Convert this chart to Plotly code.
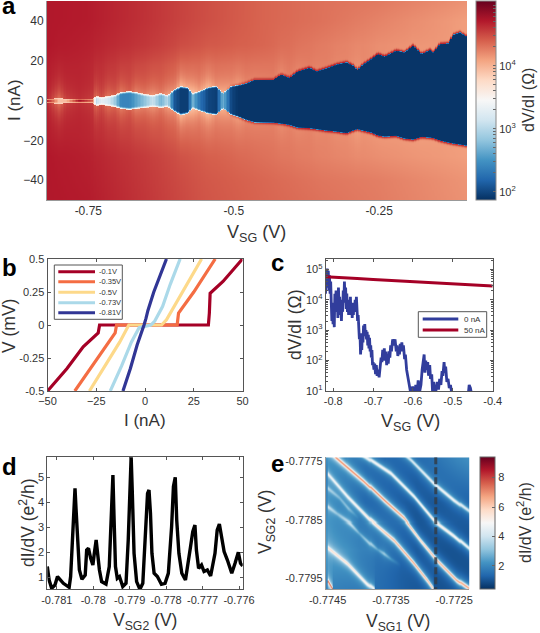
import numpy as np
import plotly.graph_objects as go

W = 540
H = 633
FONT = "Liberation Sans"
TXT = "#333333"
FRAME = "#555555"

# colours shared by the two maps
map_colors = ["#053061", "#2166ac", "#4393c3", "#92c5de", "#d1e5f0", "#f7f7f7",
              "#fddbc7", "#f4a582", "#d6604d", "#b2182b", "#67001f"]

## Panel a: gap edge ##
edge_v = [-0.821, -0.7998, -0.7883, -0.7654, -0.7425, -0.7368, -0.7282, -0.7167, -0.7053, -0.6938,
          -0.6795, -0.668, -0.6537, -0.6393, -0.625, -0.6136, -0.6021, -0.5906, -0.5792, -0.5706,
          -0.5591, -0.5448, -0.5305, -0.519, -0.5047, -0.4932, -0.4789, -0.4646, -0.4331, -0.4188,
          -0.4044, -0.3901, -0.37, -0.3586, -0.3414, -0.3242, -0.307, -0.2956, -0.2881, -0.2784,
          -0.264, -0.2526, -0.2411, -0.2211, -0.2067, -0.1924, -0.1781, -0.1638, -0.158, -0.1466,
          -0.1322, -0.1236, -0.1122, -0.099]
edge_upper = [1, 1.5, 1, 1.2, 1.2, 2.5, 2, 2.5, 3, 4.5, 5, 4.5, 3.5, 3, 4, 3, 6, 7.5, 7, 4, 5, 7, 7.5, 4,
              7.5, 8, 9, 10.8, 10.7, 13.4, 11.7, 15, 16.7, 15, 16.5, 18.4, 19.5, 17.9, 15.7, 18.4,
              21.2, 23.7, 22.4, 25.4, 24.5, 27.9, 23.7, 25.7, 24.5, 28.7, 29, 33.3, 34.5, 32.3]
edge_lower = [1, 1.5, 1, 1, 1, 2.5, 2, 2.5, 3, 4, 4.5, 4, 3.5, 3, 3.5, 3, 5.5, 7.2, 6.5, 3.8, 5, 6.5, 7, 3.8,
              7, 8, 9.7, 10.8, 11, 11.5, 12.15, 13.5, 13.8, 14.3, 15, 15.5, 16.3, 15, 14.3, 15,
              16, 17.5, 18, 17.65, 19, 19.5, 18.2, 18.5, 18.8, 20, 21, 21.5, 22, 22.65]
# log10 of dV/dI inside the gap
gap_log = [4.95, 3.9, 4.0, 4.95, 4.5, 3.0, 3.3, 3.2, 2.9, 2.4, 2.4, 2.6, 2.8, 3.1, 2.7, 3.0, 2.1, 1.95, 1.95, 2.7,
           2.3, 2.0, 1.95, 2.7, 2.0, 1.9, 1.9, 1.9, 1.9, 1.9, 1.9, 1.9, 1.9, 1.9, 1.9, 1.9, 1.9, 1.9, 1.9, 1.9,
           1.9, 1.9, 1.9, 1.9, 1.9, 1.9, 1.9, 1.9, 1.9, 1.9, 1.9, 1.9, 1.9, 1.9]
# how far the pale glow outside the edge pulls the log value down
halo_log = [0.05, 0.35, 0.15, 0.05, 0.1, 0.3, 0.15, 0.3, 0.2, 0.3, 0.15, 0.3, 0.25, 0.35, 0.2, 0.35, 0.25, 0.45, 0.35, 0.5,
            0.3, 0.4, 0.2, 0.35, 0.2, 0.25, 0.12, 0.1, 0.06, 0.12, 0.05, 0.08, 0.03, 0.06, 0.03, 0.05, 0.03, 0.06, 0.1, 0.03,
            0.03, 0.03, 0.03, 0.03, 0.03, 0.03, 0.04, 0.03, 0.03, 0.02, 0.02, 0.02, 0.02, 0.02]
rim_log = [0.0] * 24 + [0.15, 0.25, 0.3, 0.3, 0.35, 0.35, 0.4, 0.4, 0.45, 0.4, 0.45, 0.45, 0.45, 0.45, 0.45, 0.45,
                        0.5, 0.5, 0.5, 0.5, 0.5, 0.5, 0.5, 0.5, 0.5, 0.5, 0.5, 0.5, 0.5, 0.5]

# background level away from the gap, log10 of dV/dI
bg_v = [-0.821, -0.75, -0.65, -0.55, -0.45, -0.35, -0.25, -0.099]
bg_i = [-50, -40, -28, -18, 18, 28, 40, 50]
bg_table = [
    [4.72, 4.70, 4.58, 4.45, 4.38, 4.32, 4.27, 4.17],
    [4.72, 4.69, 4.57, 4.44, 4.37, 4.30, 4.26, 4.16],
    [4.72, 4.68, 4.56, 4.42, 4.33, 4.25, 4.19, 4.12],
    [4.70, 4.66, 4.52, 4.38, 4.31, 4.25, 4.17, 4.13],
    [4.70, 4.66, 4.52, 4.38, 4.33, 4.28, 4.22, 4.14],
    [4.72, 4.68, 4.58, 4.45, 4.38, 4.28, 4.20, 4.14],
    [4.72, 4.70, 4.60, 4.48, 4.38, 4.32, 4.24, 4.12],
    [4.72, 4.70, 4.60, 4.48, 4.38, 4.32, 4.28, 4.17],
]

## Panel b ##
iv_names = ["-0.1V", "-0.35V", "-0.5V", "-0.73V", "-0.81V"]
iv_colors = ["#a50026", "#f46d43", "#fdd98a", "#abd9e9", "#313695"]
iv_i = [
    [-50, -40, -31.7, -24, -23.3, 32.5, 33, 33.4, 40, 50],
    [-36, -28, -20, -15.3, -14.6, 16.5, 16.8, 17.2, 25, 36],
    [-28.5, -20, -13, -8.3, 8.5, 11, 15, 21, 29],
    [-17.8, -12, -7, -3, 3, 5, 9, 13, 18],
    [-11.3, -7.5, -4, -2, -0.5, 0.5, 1.5, 4.5, 7, 11],
]
iv_v = [
    [-0.5, -0.33, -0.165, -0.06, 0, 0, 0.09, 0.24, 0.33, 0.5],
    [-0.5, -0.33, -0.17, -0.06, 0, 0, 0.04, 0.09, 0.25, 0.5],
    [-0.5, -0.3, -0.13, 0, 0, 0.04, 0.14, 0.29, 0.5],
    [-0.5, -0.31, -0.13, -0.02, 0, 0.03, 0.14, 0.31, 0.5],
    [-0.5, -0.33, -0.15, -0.07, 0, 0.05, 0.11, 0.25, 0.35, 0.5],
]

## Panel c ##
vsg_0na = [-0.8195, -0.8185, -0.817, -0.8155, -0.814, -0.8125, -0.811, -0.8095, -0.808, -0.8065, -0.805, -0.8035,
           -0.802, -0.8005, -0.799, -0.7975, -0.796, -0.7945, -0.793, -0.7915, -0.79, -0.7885, -0.787, -0.7855,
           -0.784, -0.7825, -0.781, -0.7795, -0.778, -0.7765, -0.775, -0.7735, -0.772, -0.7705, -0.769, -0.7675,
           -0.766, -0.7645, -0.763, -0.7615, -0.76, -0.7585, -0.757, -0.7555, -0.754, -0.7525, -0.751, -0.7495,
           -0.748, -0.7465, -0.745, -0.7435, -0.742, -0.7405, -0.739, -0.7375, -0.736, -0.7345, -0.733, -0.7315,
           -0.73, -0.7285, -0.727, -0.7255, -0.724, -0.7225, -0.721, -0.7195, -0.718, -0.7165, -0.715, -0.7135,
           -0.712, -0.7105, -0.709, -0.7075, -0.706, -0.7045, -0.703, -0.7015, -0.7, -0.698, -0.696, -0.694,
           -0.692, -0.69, -0.688, -0.685, -0.682, -0.68, -0.678, -0.676, -0.674, -0.672, -0.67, -0.668,
           -0.666, -0.664, -0.662, -0.66, -0.658, -0.656, -0.654, -0.651, -0.648, -0.645, -0.642, -0.64,
           -0.638, -0.636, -0.634, -0.632, -0.63, -0.628, -0.626, -0.624, -0.621, -0.619, -0.616, -0.613,
           -0.61, -0.607, -0.604, -0.601, -0.599, -0.596, -0.593, -0.59, -0.587, -0.583, -0.58, -0.577,
           -0.574, -0.572, -0.57, -0.568, -0.566, -0.563, -0.561, -0.558, -0.556, -0.553, -0.551, -0.548,
           -0.545, -0.542, -0.539, -0.536, -0.533, -0.53, -0.527, -0.525, -0.522, -0.52, -0.518, -0.515,
           -0.512, -0.509, -0.506, -0.503, -0.5, -0.49, -0.47, -0.462, -0.459, -0.456, -0.453, -0.45]
logr_0na = [4.2, 4.7, 4.4, 5.03, 4.5, 4.95, 4.3, 4.8, 4.2, 4.6, 3.9, 3.3,
            3.7, 3.2, 3.9, 3.1, 4.2, 3.7, 4.3, 3.6, 4.2, 3.4, 4.4, 3.8,
            4.1, 3.5, 3.9, 3.3, 4.0, 3.6, 4.3, 3.9, 4.6, 4.0, 4.4, 3.7,
            4.2, 3.6, 4.0, 3.5, 3.9, 3.6, 4.1, 3.5, 3.9, 3.4, 3.8, 3.5,
            3.9, 3.7, 4.0, 3.6, 4.1, 3.6, 3.3, 3.5, 3.0, 2.7, 2.9, 2.2,
            2.6, 2.35, 2.9, 2.6, 3.15, 2.8, 3.2, 2.85, 3.0, 2.7, 2.95, 2.5,
            2.85, 2.4, 2.75, 2.3, 2.5, 2.1, 2.35, 1.85, 1.95, 1.7, 1.9, 1.55,
            1.85, 1.5, 1.7, 1.45, 1.9, 2.1, 1.95, 2.35, 2.0, 2.4, 2.0, 2.3,
            1.85, 2.2, 1.9, 2.3, 2.1, 2.5, 2.3, 2.7, 2.5, 2.7, 2.3, 2.5,
            2.15, 2.4, 2.2, 2.55, 2.3, 2.6, 2.3, 2.5, 2.05, 2.2, 1.7, 1.5,
            1.2, 1.0, 0.8, 1.15, 0.8, 0.9, 1.2, 0.85, 1.35, 1.0, 1.2, 1.7,
            2.15, 2.2, 1.6, 2.0, 1.7, 1.95, 1.5, 1.85, 1.4, 1.55, 1.0, 1.3,
            0.8, 1.1, 1.3, 1.05, 1.4, 1.2, 1.65, 1.5, 1.95, 1.6, 1.8, 1.3,
            1.4, 1.1, 1.2, 0.95, 0.7, 0.7, 0.7, 0.8, 1.2, 1.1, 0.8, 0.7]
vsg_50na = [-0.82, -0.78, -0.74, -0.7, -0.65, -0.6, -0.55, -0.5, -0.45, -0.4]
logr_50na = [4.76, 4.72, 4.70, 4.67, 4.63, 4.59, 4.56, 4.53, 4.49, 4.45]

## Panel d ##
vsg2 = [-0.78126, -0.78121, -0.78114, -0.78105, -0.78098, -0.78093, -0.78082, -0.78066, -0.78062, -0.78057,
        -0.78053, -0.7805, -0.78047, -0.78043, -0.78038, -0.78031, -0.78022, -0.78018, -0.78013, -0.78007,
        -0.78001, -0.77997, -0.77992, -0.77989, -0.77983, -0.77977, -0.77965, -0.77956, -0.77951, -0.77946,
        -0.77943, -0.77939, -0.77934, -0.77928, -0.77919, -0.7791, -0.77904, -0.77899, -0.77896, -0.77893,
        -0.77888, -0.77881, -0.77872, -0.77864, -0.77857, -0.77851, -0.77847, -0.77843, -0.77839, -0.77833,
        -0.77824, -0.77813, -0.77803, -0.77794, -0.77785, -0.7778, -0.77775, -0.77771, -0.77765, -0.77757,
        -0.77747, -0.77739, -0.77733, -0.77727, -0.77721, -0.77717, -0.77711, -0.77703, -0.77696, -0.77687,
        -0.77678, -0.77666, -0.7766, -0.77654, -0.77649, -0.77641, -0.77632, -0.7762, -0.77611, -0.77602,
        -0.77596, -0.7759]
didv = [1.43, 0.89, 0.56, 0.69, 1.03, 0.96, 0.76, 0.6, 1.03, 2.49,
        3.96, 4.56, 3.69, 2.63, 1.29, 0.92, 1.09, 2.09, 2.16, 1.76,
        1.49, 1.96, 2.49, 2.09, 1.29, 0.83, 0.73, 1.43, 3.29, 5.09,
        3.43, 1.43, 0.96, 1.03, 0.63, 0.76, 2.49, 5.16, 5.83, 4.49,
        1.96, 0.83, 0.52, 0.76, 2.49, 4.36, 4.49, 3.56, 1.96, 1.16,
        1.03, 0.72, 0.76, 1.16, 3.03, 4.63, 5.0, 3.29, 1.96, 1.16,
        0.89, 1.56, 2.23, 2.83, 3.09, 2.09, 1.36, 1.49, 1.23, 1.29,
        1.05, 1.96, 2.89, 3.13, 2.76, 2.03, 1.69, 1.16, 1.56, 2.0,
        1.56, 1.45]

## Panel e: conductance ridges ##
# first node of the top ridges lies above the map so their tails have no seam
ridge_x = [
    [-0.77420, -0.77383, -0.77351, -0.77314, -0.77283, -0.77251, -0.77226],
    [-0.77470, -0.77433, -0.77393, -0.77362, -0.7733, -0.77304, -0.77277, -0.77246, -0.77226],
    [-0.77360, -0.77319, -0.77283, -0.77251, -0.77226],
    [-0.77451, -0.77419, -0.77383, -0.77346, -0.77314, -0.77293, -0.77283],
    [-0.77451, -0.77435, -0.77414, -0.77400, -0.77383, -0.77372, -0.77362, -0.77350, -0.77335],
    [-0.77451, -0.77419, -0.77388, -0.77377],
    [-0.77451, -0.77443],
    [-0.77451, -0.77432, -0.77418, -0.77400],
]
ridge_y = [
    [-0.77722, -0.77747, -0.7777, -0.7781, -0.7785, -0.77876, -0.77899],
    [-0.77712, -0.77747, -0.77784, -0.77816, -0.77847, -0.77884, -0.77919, -0.77953, -0.77968],
    [-0.77710, -0.77747, -0.77787, -0.77816, -0.77836],
    [-0.7777, -0.7781, -0.7785, -0.77884, -0.77924, -0.77953, -0.77968],
    [-0.77827, -0.77840, -0.77856, -0.77872, -0.7789, -0.77900, -0.77907, -0.77917, -0.77927],
    [-0.77896, -0.77924, -0.77959, -0.77968],
    [-0.77953, -0.77968],
    [-0.77795, -0.77812, -0.77830, -0.77848],
]
ridge_peak = [
    [3.0, 3.6, 3.8, 4.0, 4.4, 4.2, 3.8],
    [5.0, 5.4, 5.8, 6.0, 5.6, 5.0, 5.6, 5.8, 6.0],
    [2.6, 3.0, 3.5, 3.8, 3.0],
    [2.8, 3.3, 4.2, 5.2, 5.8, 5.4, 5.0],
    [2.0, 1.2, 2.2, 1.0, 1.9, 0.9, 1.8, 0.8, 0.0],
    [3.2, 3.7, 3.6, 3.2],
    [5.6, 5.6],
    [1.6, 1.0, 1.2, 0.0],
]
# slowly varying floor of the map
floor_x = [-0.77453, -0.77390, -0.77310, -0.77226]
floor_y = [-0.77743, -0.77820, -0.77900, -0.77969]
floor_table = [
    [1.8, 1.1, 1.2, 2.2],
    [2.0, 1.1, 0.8, 1.1],
    [2.4, 1.7, 0.8, 0.8],
    [1.9, 1.6, 1.0, 0.8],
]
sg1_cut = [-0.77279, -0.77279]
sg2_cut = [-0.77743, -0.77969]


def table_lookup(xs, ys, xnodes, ynodes, table):
    # table is rows of ynodes, columns of xnodes
    table = np.array(table)
    by_col = np.array([np.interp(xs, xnodes, row) for row in table])
    return np.array([np.interp(ys, ynodes, by_col[:, j]) for j in range(len(xs))]).T


def build_gap_map():
    v = np.linspace(-0.821, -0.099, 280)
    cur = np.linspace(-50, 50, 200)
    bg = table_lookup(v, cur, bg_v, bg_i, bg_table)
    up = np.interp(v, edge_v, edge_upper)
    lo = np.interp(v, edge_v, edge_lower)
    gap = np.interp(v, edge_v, gap_log)
    halo = np.interp(v, edge_v, halo_log)
    rim = np.interp(v, edge_v, rim_log)
    soft = np.interp(v, [-0.6, -0.45], [1.5, 0.5])
    top = np.interp(v, [-0.55, -0.45], [3.8, 2.5])
    z = np.zeros((len(cur), len(v)))
    for j in range(len(v)):
        edge = np.where(cur >= 0, up[j], lo[j])
        d = np.abs(cur) - edge
        t = np.clip(1 + d / soft[j], 0, 1)
        inside = gap[j] + (top[j] - gap[j]) * t ** 2
        outside = bg[:, j] - halo[j] * np.exp(-np.clip(d, 0, None) / 7.0) + rim[j] * np.exp(-(d / 0.9) ** 2)
        z[:, j] = np.where(d < 0, inside, outside)
    return v, cur, z


def build_ridge_map():
    x = np.linspace(-0.77453, -0.77226, 143)
    y = np.linspace(-0.77969, -0.77743, 132)
    z = table_lookup(x, y, floor_x, floor_y[::-1], floor_table[::-1])
    for rx, ry, rp in zip(ridge_x, ridge_y, ridge_peak):
        yc = np.interp(x, rx, ry)
        amp = np.interp(x, rx, rp)
        amp[(x < rx[0]) | (x > rx[-1])] = 0
        for j in range(len(x)):
            d = (y - yc[j]) / 0.00001
            z[:, j] += amp[j] * (0.6 * np.exp(-(d / 3.2) ** 2) + 0.4 / (1 + (d / 8.0) ** 2))
    return x, y, z


# pixel helpers, the figure is laid out by hand to the 540x633 page
def xdom(a, b):
    return [a / W, b / W]


def ydom(top, bottom):
    return [1 - bottom / H, 1 - top / H]


def axis_style(**kw):
    d = dict(showgrid=False, zeroline=False, showline=True, linecolor=FRAME, linewidth=1, mirror="ticks", automargin=False,
             ticks="inside", ticklen=3, tickcolor=FRAME, tickfont=dict(size=11, color=TXT))
    d.update(kw)
    return d


fig = go.Figure()

# a
map_v, map_i, map_z = build_gap_map()
fig.add_trace(go.Heatmap(x=map_v, y=map_i, z=map_z, xaxis="x", yaxis="y", zmin=1.87, zmax=5.03,
                         colorscale=[[i / 10, c] for i, c in enumerate(map_colors)],
                         colorbar=dict(x=476 / W, xanchor="left", y=1 - 100.5 / H, yanchor="middle", len=199 / H,
                                       thickness=20, xpad=0, ypad=0, outlinecolor="#888888", outlinewidth=1,
                                       tickmode="array",
                                       tickvals=[2, 3, 4] + [float(np.log10(m * 10 ** k)) for k in (2, 3, 4) for m in range(2, 10)],
                                       ticktext=["10<sup>2</sup>", "10<sup>3</sup>", "10<sup>4</sup>"] + [""] * 24,
                                       ticks="inside", ticklen=3, tickcolor="#666666", tickfont=dict(size=11, color=TXT))))

# b
for name, color, cur, volt in zip(iv_names, iv_colors, iv_i, iv_v):
    fig.add_trace(go.Scatter(x=cur, y=volt, mode="lines", name=name, line=dict(color=color, width=3.2),
                             xaxis="x2", yaxis="y2", showlegend=False))

# c
fig.add_trace(go.Scatter(x=vsg_0na, y=[10 ** v for v in logr_0na], mode="lines", line=dict(color="#313d9c", width=2.8),
                         xaxis="x3", yaxis="y3", showlegend=False))
fig.add_trace(go.Scatter(x=vsg_50na, y=[10 ** v for v in logr_50na], mode="lines", line=dict(color="#a50026", width=3),
                         xaxis="x3", yaxis="y3", showlegend=False))

# d
fig.add_trace(go.Scatter(x=vsg2, y=didv, mode="lines", line=dict(color="black", width=3.4),
                         xaxis="x4", yaxis="y4", showlegend=False))

# e
e_x, e_y, e_z = build_ridge_map()
fig.add_trace(go.Heatmap(x=e_x, y=e_y, z=e_z, xaxis="x5", yaxis="y5", zmin=0.43, zmax=9.4,
                         colorscale=[[i / 10, c] for i, c in enumerate(map_colors)], zsmooth="best",
                         colorbar=dict(x=480 / W, xanchor="left", y=1 - 523 / H, yanchor="middle", len=132 / H,
                                       thickness=15, xpad=0, ypad=0, outlinecolor="#666666", outlinewidth=1,
                                       tickvals=[2, 4, 6, 8], ticks="inside", ticklen=3, tickcolor="#666666",
                                       tickfont=dict(size=11, color=TXT))))
fig.add_trace(go.Scatter(x=sg1_cut, y=sg2_cut, mode="lines", line=dict(color="rgba(50,60,70,0.85)", width=3, dash="7px,3px"),
                         xaxis="x5", yaxis="y5", showlegend=False))

log_minor = [m * 10 ** k for k in (1, 2, 3, 4, 5) for m in range(2, 10)]

fig.update_layout(
    template="none",
    width=W, height=H, margin=dict(l=0, r=0, t=0, b=0, autoexpand=False), paper_bgcolor="white", plot_bgcolor="white",
    font=dict(family=FONT, color=TXT), showlegend=False,
    xaxis=axis_style(domain=xdom(47, 467), range=[-0.821, -0.099], anchor="y", mirror=False, ticks="", linecolor="#999999",
                     tickvals=[-0.75, -0.5, -0.25], ticktext=["-0.75", "-0.5", "-0.25"], tickfont=dict(size=12, color=TXT)),
    yaxis=axis_style(domain=ydom(1, 200), range=[-50, 50], anchor="x", mirror=False, ticks="", linecolor="#999999",
                     tickvals=[-40, -20, 0, 20, 40], tickfont=dict(size=12, color=TXT)),
    xaxis2=axis_style(domain=xdom(47.5, 242.5), range=[-50, 50], anchor="y2", tickvals=[-50, -25, 0, 25, 50]),
    yaxis2=axis_style(domain=ydom(259, 391), range=[-0.5, 0.5], anchor="x2", tickvals=[-0.5, -0.25, 0, 0.25, 0.5],
                      ticktext=["-0.5", "-0.25", "0", "0.25", "0.5"]),
    xaxis3=axis_style(domain=xdom(325.7, 492.7), range=[-0.819, -0.4], anchor="y3", tickvals=[-0.8, -0.7, -0.6, -0.5, -0.4],
                      ticktext=["-0.8", "-0.7", "-0.6", "-0.5", "-0.4"]),
    yaxis3=axis_style(domain=ydom(259, 391), type="log", range=[1, 5.34], anchor="x3", tickvals=[10, 100, 1000, 10000, 100000],
                      ticktext=["10<sup>1</sup>", "10<sup>2</sup>", "10<sup>3</sup>", "10<sup>4</sup>", "10<sup>5</sup>"],
                      minor=dict(tickmode="array", tickvals=log_minor, ticks="inside", ticklen=2, tickcolor=FRAME)),
    xaxis4=axis_style(domain=xdom(47.3, 242.7), range=[-0.78126, -0.7759], anchor="y4",
                      tickvals=[-0.781, -0.78, -0.779, -0.778, -0.777, -0.776],
                      ticktext=["-0.781", "-0.78", "-0.779", "-0.778", "-0.777", "-0.776"]),
    yaxis4=axis_style(domain=ydom(457.3, 589.3), range=[0.52, 5.8], anchor="x4", tickvals=[1, 2, 3, 4, 5]),
    xaxis5=axis_style(domain=xdom(325.7, 469.3), range=[-0.77453, -0.77226], anchor="y5", ticks="", mirror=False, linecolor="#999999",
                      tickvals=[-0.7745, -0.7735, -0.7725], ticktext=["-0.7745", "-0.7735", "-0.7725"]),
    yaxis5=axis_style(domain=ydom(457.3, 589.3), range=[-0.77969, -0.77743], anchor="x5", ticks="", mirror=False, linecolor="#999999",
                      tickvals=[-0.7795, -0.7785, -0.7775], ticktext=["-0.7795", "-0.7785", "-0.7775"]),
)

# Legends are drawn by hand, plotly's rows are too tall for these little boxes
shapes = []
notes = []


def add_box(x0, y0, x1, y1):
    shapes.append(dict(type="rect", xref="paper", yref="paper", x0=x0 / W, x1=x1 / W, y0=1 - y0 / H, y1=1 - y1 / H,
                       line=dict(color=FRAME, width=1), fillcolor="white"))


def add_row(x0, x1, y, color, text, tx, size):
    shapes.append(dict(type="line", xref="paper", yref="paper", x0=x0 / W, x1=x1 / W, y0=1 - y / H, y1=1 - y / H,
                       line=dict(color=color, width=3)))
    notes.append(dict(xref="paper", yref="paper", x=tx / W, y=1 - y / H, xanchor="left", yanchor="middle", text=text,
                      showarrow=False, font=dict(size=size, color=TXT)))


def add_title(text, px, py, size=17.5, angle=0):
    notes.append(dict(xref="paper", yref="paper", x=px / W, y=1 - py / H, xanchor="center", yanchor="middle", text=text,
                      textangle=angle, showarrow=False, font=dict(size=size, color=TXT)))


add_box(54.3, 265, 122.3, 319.3)
for row_y, name, color in zip([271.7, 281.7, 292.3, 302.7, 312.7], iv_names, iv_colors):
    add_row(58.3, 95, row_y, color, name, 97, 7.5)
add_box(418.3, 311.7, 486.7, 337.3)
add_row(422.7, 458.3, 319, "#313d9c", "0 nA", 462, 8)
add_row(422.7, 458.3, 330, "#a50026", "50 nA", 462, 8)

# Axis titles, standoff can't get them close enough so they go where they were read
add_title("V<sub>SG</sub> (V)", 256, 233, 18)
add_title("I (nA)", 14, 100, 17, -90)
add_title("dV/dI (Ω)", 528, 100, 16, -90)
add_title("I (nA)", 145, 420, 17)
add_title("V (mV)", 9, 326, 17.5, -90)
add_title("V<sub>SG</sub> (V)", 410, 422, 18)
add_title("dV/dI (Ω)", 295, 325, 17.5, -90)
add_title("V<sub>SG2</sub> (V)", 145, 621, 17.5)
add_title("dI/dV (e<sup>2</sup>/h)", 27, 523, 17.5, -90)
add_title("V<sub>SG1</sub> (V)", 398, 622, 17.5)
add_title("V<sub>SG2</sub> (V)", 266, 522, 17.5, -90)
add_title("dI/dV (e<sup>2</sup>/h)", 524, 523, 16, -90)

# Panel letters
for letter, px, py in [("a", 0, 6), ("b", 0, 267), ("c", 269, 262), ("d", 0, 466), ("e", 269, 463)]:
    notes.append(dict(xref="paper", yref="paper", x=px / W, y=1 - py / H, xanchor="left", yanchor="middle", text="<b>%s</b>" % letter,
                      showarrow=False, font=dict(size=24, color="black")))

fig.update_layout(shapes=shapes, annotations=notes)

fig.write_html("out.html", config=dict(displayModeBar=False),
               post_script="document.body.style.margin='0';document.body.style.overflow='hidden';")
